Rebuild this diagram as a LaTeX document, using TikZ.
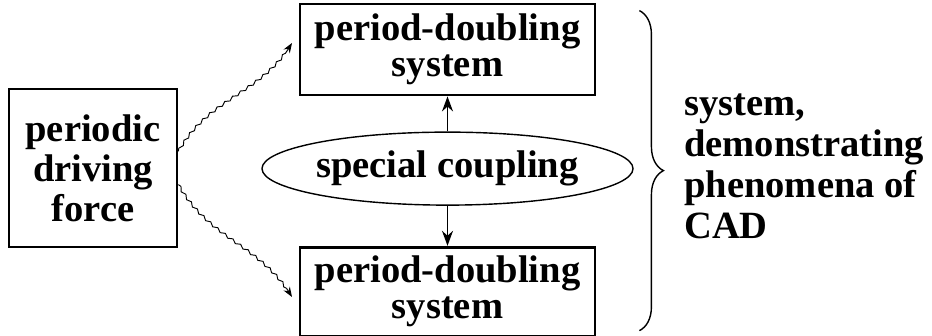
\documentclass[tikz,border=0pt]{standalone}
\usepackage{fontspec}
\setmainfont{Liberation Serif}
\usetikzlibrary{arrows.meta, positioning, shapes.geometric,
  decorations.pathmorphing, decorations.pathreplacing}

\begin{document}
\begin{tikzpicture}[x=0.03cm, y=-0.03cm,
    block/.style={rectangle, draw, line width=2.4pt, align=center, inner sep=0pt,
                  font=\fontsize{32.9pt}{30.7pt}\selectfont\bfseries},
    coupler/.style={ellipse, draw, line width=1.2pt, inner sep=0pt,
                  minimum width=9.81cm, minimum height=2.19cm,
                  font=\fontsize{32.9pt}{30.7pt}\selectfont\bfseries},
    note/.style={align=left, inner sep=0pt,
                  font=\fontsize{32.9pt}{35pt}\selectfont\bfseries},
    wavy/.style={decorate, decoration={snake, amplitude=1.1pt, segment length=8pt,
                  post length=3mm}, line width=0.8pt,
                  -{Stealth[length=0.3cm, width=0.22cm]}},
    link/.style={line width=1.3pt, -{Stealth[length=0.45cm, width=0.33cm]}},
  ]
    \useasboundingbox (0,0) rectangle (932,335);

    \node[block, minimum width=5.04cm, minimum height=4.74cm,
          font=\fontsize{32.9pt}{34pt}\selectfont\bfseries] (force) at (93,168)
      {periodic\\driving\\force};
    \node[block, minimum width=8.85cm, minimum height=2.73cm] (pdtop) at (447.5,49.5)
      {period-doubling\\system};
    \node[coupler, below=1.05cm of pdtop] (coupling) {special coupling};
    \node[block, minimum width=8.85cm, minimum height=2.67cm, below=1.2cm of coupling]
      (pdbot) {period-doubling\\system};
    \node[note, anchor=west] (cad) at (684,166)
      {system,\\demonstrating\\phenomena of\\CAD};

    \coordinate (tipA) at (292,43);
    \coordinate (tipB) at (292,297);
    \draw[wavy] (force.11) to[out=60, in=240] (tipA);
    \draw[wavy] (force.-11) to[out=-60, in=120] (tipB);

    \draw[link] (coupling.north) -- (coupling.north |- pdtop.south);
    \draw[link] (coupling.south) -- (coupling.south |- pdbot.north);

    \draw[line width=1.2pt, decorate, decoration={brace, amplitude=0.72cm}]
      ([xshift=1.29cm, yshift=-0.24cm]pdtop.north east)
      -- ([xshift=1.29cm, yshift=0.21cm]pdbot.south east);
  \end{tikzpicture}
\end{document}
